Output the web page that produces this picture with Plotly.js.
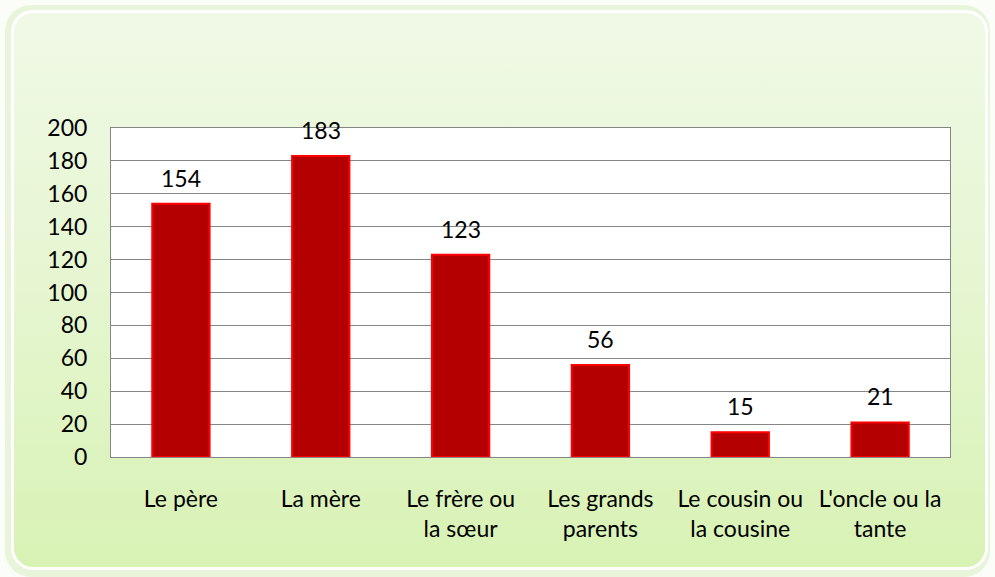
<!DOCTYPE html>
<html><head><meta charset="utf-8">
<script src="https://cdn.plot.ly/plotly-3.0.1.min.js"></script>
<style>
html,body{margin:0;padding:0;background:#ffffff;}
#wrap{position:relative;width:995px;height:577px;overflow:hidden;background:#fbfdf8;}
#outer{position:absolute;left:5px;top:5px;width:985px;height:572px;border-radius:26px;background:#e8f5da;}
#inner{position:absolute;left:11px;top:10px;width:971px;height:554px;border-radius:22px;border:3px solid #ffffff;
 background:linear-gradient(to bottom,#f0f9e6 0%,#e5f6d0 50%,#d8f2b4 100%);}
#chart{position:absolute;left:0;top:0;width:995px;height:577px;}
</style></head>
<body><div id="wrap"><div id="outer"></div><div id="inner"></div><div id="chart"></div></div>
<script>
var categories = ["Le père","La mère","Le frère ou<br>la sœur","Les grands<br>parents","Le cousin ou<br>la cousine","L'oncle ou la<br>tante"];
var values = [154,183,123,56,15,21];
var yTicks = [0,20,40,60,80,100,120,140,160,180,200];

var font = "Lato, 'Open Sans', sans-serif";
var fs = 23;
var trace = {
  type:'bar', x:categories, y:values,
  marker:{color:'#b40000', line:{color:'#ff0000', width:2}},
  hoverinfo:'none'
};
var annotations = categories.map(function(c,i){
  return {x:c, y:values[i], text:String(values[i]), showarrow:false, yshift:26,
    font:{family:font,size:fs,color:'#000'}};
});
var layout = {
  width:995, height:577,
  margin:{l:111, r:45, t:128, b:120},
  paper_bgcolor:'rgba(0,0,0,0)', plot_bgcolor:'#ffffff',
  bargap:0.59, showlegend:false,
  font:{family:font, size:fs, color:'#000'},
  xaxis:{type:'category', showline:true, linecolor:'#868686', linewidth:1, mirror:true,
    ticks:'outside', ticklen:21, tickcolor:'rgba(0,0,0,0)', tickfont:{family:font,size:fs,color:'#000'},
    showgrid:false, fixedrange:true},
  yaxis:{range:[0,200], tickvals:yTicks, ticktext:yTicks.map(String), showline:true, linecolor:'#868686', linewidth:1, mirror:true,
    gridcolor:'#868686', gridwidth:1, zeroline:false,
    ticks:'outside', ticklen:18, tickcolor:'rgba(0,0,0,0)', tickfont:{family:font,size:fs,color:'#000'}, fixedrange:true},
  annotations:annotations
};
Plotly.newPlot('chart',[trace],layout,{displayModeBar:false, staticPlot:true});
</script></body></html>
